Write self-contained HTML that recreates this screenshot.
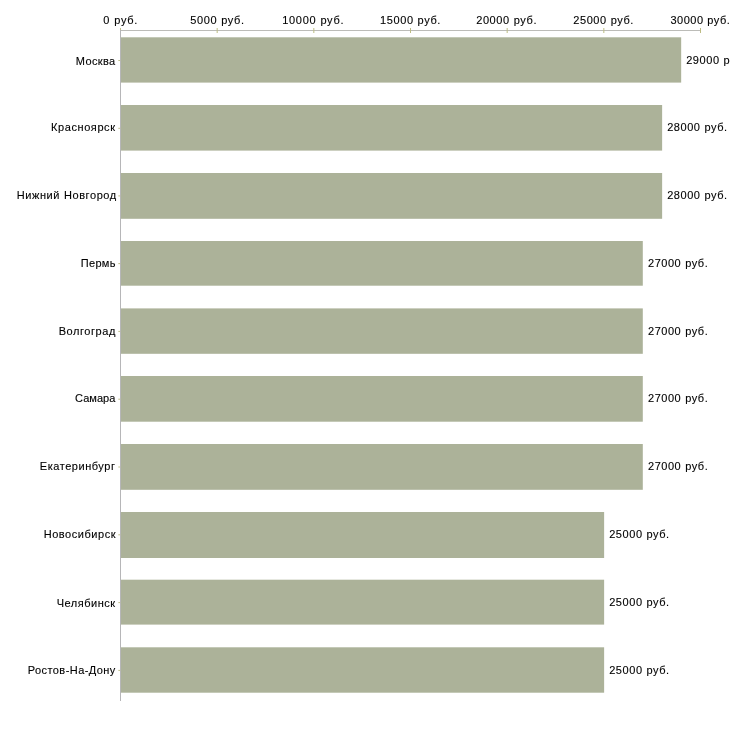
<!DOCTYPE html>
<html lang="ru"><head><meta charset="utf-8"><title>chart</title><style>
html,body{margin:0;padding:0;background:#fff;}
body{width:730px;height:730px;position:relative;overflow:hidden;font-family:"Liberation Sans",sans-serif;font-size:11px;color:#000;}
svg{position:absolute;left:0;top:0;}
#txt{position:absolute;left:0;top:0;width:730px;height:730px;will-change:transform;}
.t{position:absolute;white-space:nowrap;line-height:12px;height:12px;word-spacing:0.3px;-webkit-text-stroke:0.12px #000;}
</style></head><body>
<svg width="730" height="730" viewBox="0 0 730 730">
<rect x="121" y="37.3" width="560.17" height="45.30" fill="#acb299"/>
<rect x="121" y="105.0" width="541.13" height="45.60" fill="#acb299"/>
<rect x="121" y="173.0" width="541.13" height="45.80" fill="#acb299"/>
<rect x="121" y="241.0" width="521.80" height="44.70" fill="#acb299"/>
<rect x="121" y="308.4" width="521.80" height="45.40" fill="#acb299"/>
<rect x="121" y="376.0" width="521.80" height="45.70" fill="#acb299"/>
<rect x="121" y="444.0" width="521.80" height="45.80" fill="#acb299"/>
<rect x="121" y="512.0" width="483.13" height="46.00" fill="#acb299"/>
<rect x="121" y="579.7" width="483.13" height="44.90" fill="#acb299"/>
<rect x="121" y="647.3" width="483.13" height="45.40" fill="#acb299"/>
<rect x="120" y="30" width="581" height="1" fill="#bcbcb8"/>
<rect x="120" y="30" width="1" height="671" fill="#b6b6b8"/>
<rect x="120" y="28" width="1" height="2" fill="#c2c18c"/>
<rect x="216.67" y="28" width="1" height="5" fill="#bdbc84"/>
<rect x="313.33" y="28" width="1" height="5" fill="#bdbc84"/>
<rect x="410.00" y="28" width="1" height="5" fill="#bdbc84"/>
<rect x="506.67" y="28" width="1" height="5" fill="#bdbc84"/>
<rect x="603.33" y="28" width="1" height="5" fill="#bdbc84"/>
<rect x="700.00" y="28" width="1" height="5" fill="#bdbc84"/>
<rect x="118.3" y="60.00" width="1.9" height="1" fill="#c2c18c"/>
<rect x="118.3" y="127.80" width="1.9" height="1" fill="#c2c18c"/>
<rect x="118.3" y="195.40" width="1.9" height="1" fill="#c2c18c"/>
<rect x="118.3" y="263.10" width="1.9" height="1" fill="#c2c18c"/>
<rect x="118.3" y="330.90" width="1.9" height="1" fill="#c2c18c"/>
<rect x="118.3" y="398.70" width="1.9" height="1" fill="#c2c18c"/>
<rect x="118.3" y="466.50" width="1.9" height="1" fill="#c2c18c"/>
<rect x="118.3" y="534.30" width="1.9" height="1" fill="#c2c18c"/>
<rect x="118.3" y="602.10" width="1.9" height="1" fill="#c2c18c"/>
<rect x="118.3" y="669.90" width="1.9" height="1" fill="#c2c18c"/>
</svg>
<div id="txt">
<div class="t" style="left:103.32px;top:14px;letter-spacing:0.733px">0 руб.</div>
<div class="t" style="left:190.25px;top:14px;letter-spacing:0.615px">5000 руб.</div>
<div class="t" style="left:282.21px;top:14px;letter-spacing:0.706px">10000 руб.</div>
<div class="t" style="left:379.96px;top:14px;letter-spacing:0.613px">15000 руб.</div>
<div class="t" style="left:476.17px;top:14px;letter-spacing:0.603px">20000 руб.</div>
<div class="t" style="left:573.27px;top:14px;letter-spacing:0.580px">25000 руб.</div>
<div class="t" style="left:670.52px;top:14px;letter-spacing:0.477px">30000 руб.</div>
<div class="t" style="left:75.85px;top:55px;letter-spacing:0.361px">Москва</div>
<div class="t" style="left:686.17px;top:54px;letter-spacing:0.564px">29000 руб.</div>
<div class="t" style="left:50.97px;top:121px;letter-spacing:0.590px">Красноярск</div>
<div class="t" style="left:667.17px;top:121px;letter-spacing:0.561px">28000 руб.</div>
<div class="t" style="left:16.69px;top:189px;letter-spacing:0.582px">Нижний Новгород</div>
<div class="t" style="left:667.17px;top:189px;letter-spacing:0.561px">28000 руб.</div>
<div class="t" style="left:80.76px;top:257px;letter-spacing:0.313px">Пермь</div>
<div class="t" style="left:648.00px;top:257px;letter-spacing:0.538px">27000 руб.</div>
<div class="t" style="left:58.72px;top:325px;letter-spacing:0.553px">Волгоград</div>
<div class="t" style="left:648.00px;top:325px;letter-spacing:0.538px">27000 руб.</div>
<div class="t" style="left:75.11px;top:392px;letter-spacing:0.014px">Самара</div>
<div class="t" style="left:648.00px;top:392px;letter-spacing:0.538px">27000 руб.</div>
<div class="t" style="left:39.85px;top:460px;letter-spacing:0.537px">Екатеринбург</div>
<div class="t" style="left:648.00px;top:460px;letter-spacing:0.538px">27000 руб.</div>
<div class="t" style="left:43.70px;top:528px;letter-spacing:0.537px">Новосибирск</div>
<div class="t" style="left:609.17px;top:528px;letter-spacing:0.565px">25000 руб.</div>
<div class="t" style="left:56.76px;top:597px;letter-spacing:0.512px">Челябинск</div>
<div class="t" style="left:609.17px;top:596px;letter-spacing:0.565px">25000 руб.</div>
<div class="t" style="left:27.69px;top:664px;letter-spacing:0.436px">Ростов-На-Дону</div>
<div class="t" style="left:609.17px;top:664px;letter-spacing:0.565px">25000 руб.</div>
</div></body></html>
